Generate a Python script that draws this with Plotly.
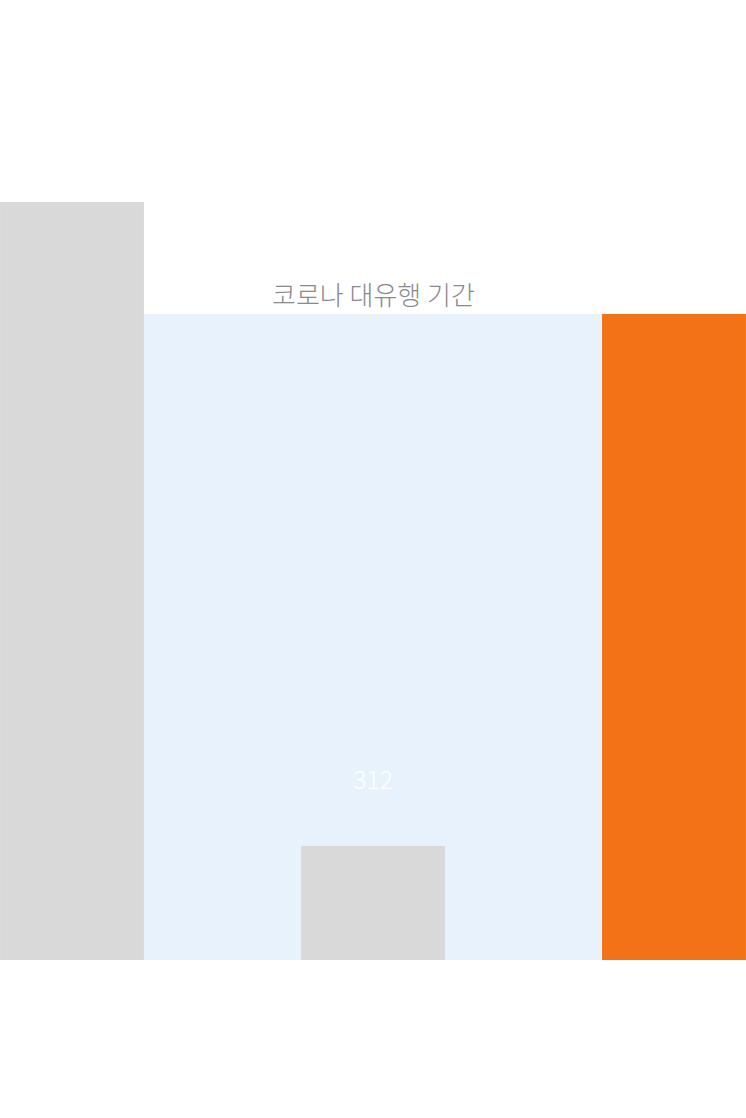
import plotly.graph_objects as go

categories = ["대유행 이전", "대유행 기간", "대유행 이후"]
values = [2074, 312, 1768]
bar_colors = ["#d9d9d9", "#d9d9d9", "#f37216"]
band_label = "코로나 대유행 기간"

bar_width = 0.478
y_max = 2627

fig = go.Figure()
fig.add_trace(go.Bar(
    x=list(range(len(categories))),
    y=values,
    width=bar_width,
    marker=dict(color=bar_colors, line=dict(width=0)),
    hoverinfo="skip",
    customdata=categories,
))

# shaded pandemic period band
fig.add_shape(
    type="rect", xref="x", yref="y",
    x0=0 + bar_width / 2, x1=2 - bar_width / 2,
    y0=0, y1=values[2],
    fillcolor="#e8f2fc", line=dict(width=0), layer="below",
)
fig.add_annotation(
    x=1, y=values[2], xref="x", yref="y",
    text=band_label, showarrow=False,
    yanchor="bottom", yshift=0,
    font=dict(family="Noto Sans CJK KR", size=26, color="#8a8a8a", weight=300),
)

# value labels (white)
for i, v in enumerate(values):
    fig.add_annotation(
        x=i, y=v, xref="x", yref="y",
        text=str(v), showarrow=False,
        yanchor="bottom", yshift=48,
        font=dict(family="Noto Sans CJK KR", size=25, color="#ffffff", weight=300),
    )

fig.update_layout(
    width=746, height=1118,
    margin=dict(l=0, r=0, t=0, b=158),
    paper_bgcolor="#ffffff", plot_bgcolor="#ffffff",
    showlegend=False,
    xaxis=dict(range=[-0.2392, 2.2392], visible=False, fixedrange=True),
    yaxis=dict(range=[0, y_max], visible=False, fixedrange=True),
)

fig.write_html("out.html")
